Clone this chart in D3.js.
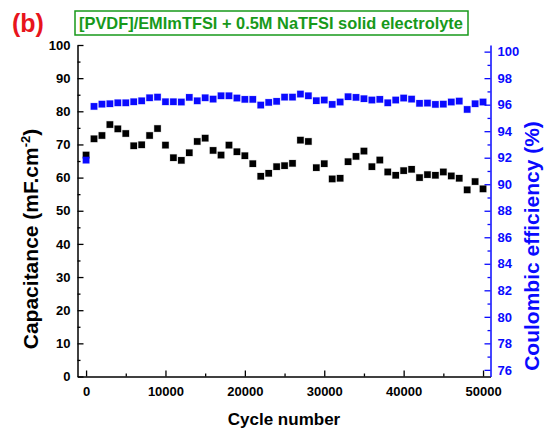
<!DOCTYPE html>
<html><head><meta charset="utf-8">
<script src="https://cdn.jsdelivr.net/npm/d3@7"></script>
<style>
body{margin:0;background:#fff}
svg{display:block}
text{font-family:"Liberation Sans",Arial,Helvetica,sans-serif;font-weight:bold}
</style>
</head><body>
<svg id="chart" width="544" height="429"></svg>
<script>
// ---- data ----
const cycles = [0,1000,2000,3000,4000,5000,6000,7000,8000,9000,10000,11000,12000,13000,14000,15000,16000,17000,18000,19000,20000,21000,22000,23000,24000,25000,26000,27000,28000,29000,30000,31000,32000,33000,34000,35000,36000,37000,38000,39000,40000,41000,42000,43000,44000,45000,46000,47000,48000,49000,50000];
const capacitance = [66.8,71.7,72.7,76.0,74.7,73.3,69.6,69.9,72.7,74.8,69.8,66.0,65.2,67.5,70.9,71.9,68.2,66.8,69.8,67.8,66.6,64.2,60.4,61.3,63.3,63.6,64.3,71.3,70.9,63.0,64.2,59.6,59.8,64.8,66.4,68.0,63.3,65.3,61.7,60.7,62.1,62.5,60.0,60.9,60.7,61.7,60.5,59.8,56.3,58.8,56.6];
const efficiency = [91.82,95.87,96.04,96.07,96.14,96.14,96.22,96.29,96.52,96.57,96.22,96.22,96.2,96.55,96.29,96.52,96.42,96.67,96.67,96.5,96.4,96.4,95.97,96.17,96.25,96.57,96.57,96.8,96.67,96.3,96.35,96.02,96.2,96.6,96.55,96.45,96.35,96.4,96.14,96.35,96.5,96.42,96.1,96.12,96.02,96.04,96.2,96.27,95.64,96.07,96.2];
const xTicks = [0,10000,20000,30000,40000,50000];
const xMinorTicks = [5000,15000,25000,35000,45000];
const leftTicks = [0,10,20,30,40,50,60,70,80,90,100];
const leftMinorTicks = [5,15,25,35,45,55,65,75,85,95];
const rightTicks = [76,78,80,82,84,86,88,90,92,94,96,98,100];
const rightMinorTicks = [77,79,81,83,85,87,89,91,93,95,97,99];
const panelLabel = "(b)";
const titleText = "[PVDF]/EMImTFSI + 0.5M NaTFSI solid electrolyte";
const xTitle = "Cycle number";
const leftTitle = "Capacitance (mF.cm";
const rightTitle = "Coulombic efficiency (%)";

// ---- layout ----
const L = 77.5, R = 490.5, T = 45, B = 376.5;
const BLUE = "#0a0aff", GREEN = "#17991a", RED = "#e8141c";
const svg = d3.select("#chart");

const x = d3.scaleLinear().domain([-1080, 50940]).range([L, R]);
const yL = d3.scaleLinear().domain([0, 100]).range([B, T]);
const yR = d3.scaleLinear().domain([75.5, 100.5]).range([B, T]);

function styleAxis(g, color) {
  g.selectAll("path.domain").attr("stroke", color).attr("stroke-width", 1.5);
  g.selectAll(".tick line").attr("stroke", color).attr("stroke-width", 1.3);
  g.selectAll("text").attr("fill", color).attr("font-size", 13)
    .attr("font-family", '"Liberation Sans",Arial,sans-serif').attr("font-weight", "bold");
}

// minor ticks
svg.append("g").attr("transform", `translate(0,${B})`)
  .call(d3.axisBottom(x).tickValues(xMinorTicks).tickSize(-3).tickFormat(""))
  .call(g => { g.select(".domain").remove(); styleAxis(g, "#000"); });
svg.append("g").attr("transform", `translate(${L},0)`)
  .call(d3.axisLeft(yL).tickValues(leftMinorTicks).tickSize(-3).tickFormat(""))
  .call(g => { g.select(".domain").remove(); styleAxis(g, "#000"); });
svg.append("g").attr("transform", `translate(${R},0)`)
  .call(d3.axisRight(yR).tickValues(rightMinorTicks).tickSize(-3).tickFormat(""))
  .call(g => { g.select(".domain").remove(); styleAxis(g, BLUE); });

// major axes
svg.append("g").attr("transform", `translate(0,${B})`)
  .call(d3.axisBottom(x).tickValues(xTicks).tickSize(-6).tickSizeOuter(0).tickPadding(10).tickFormat(d3.format("d")))
  .call(g => styleAxis(g, "#000"));
svg.append("g").attr("transform", `translate(${L},0)`)
  .call(d3.axisLeft(yL).tickValues(leftTicks).tickSize(-6).tickSizeOuter(0).tickPadding(7))
  .call(g => styleAxis(g, "#000"));
svg.append("g").attr("transform", `translate(${R},0)`)
  .call(d3.axisRight(yR).tickValues(rightTicks).tickSize(-6).tickSizeOuter(0).tickPadding(7))
  .call(g => styleAxis(g, BLUE));

// markers
const S = 6.6;
svg.append("g").selectAll("rect").data(cycles).join("rect")
  .attr("x", (d) => x(d) - S/2).attr("y", (d, i) => yL(capacitance[i]) - S/2)
  .attr("width", S).attr("height", S).attr("fill", "#000")
  .attr("stroke", "rgba(0,0,0,0.18)").attr("stroke-width", 1);
svg.append("g").selectAll("rect").data(cycles).join("rect")
  .attr("x", (d) => x(d) - S/2).attr("y", (d, i) => yR(efficiency[i]) - S/2)
  .attr("width", S).attr("height", S).attr("fill", BLUE)
  .attr("stroke", "rgba(0,0,255,0.18)").attr("stroke-width", 1);

// titles
svg.append("text").attr("x", 12).attr("y", 32).attr("font-size", 25).attr("fill", RED).text(panelLabel);
svg.append("rect").attr("x", 75).attr("y", 11).attr("width", 393).attr("height", 24)
  .attr("fill", "none").attr("stroke", GREEN).attr("stroke-width", 1.5);
svg.append("text").attr("x", 79).attr("y", 28.5).attr("font-size", 16.4).attr("fill", GREEN).text(titleText);

svg.append("text").attr("x", (L + R) / 2).attr("y", 425).attr("text-anchor", "middle")
  .attr("font-size", 17).attr("fill", "#000").text(xTitle);

const lt = svg.append("text").attr("transform", "translate(38,239) rotate(-90)")
  .attr("text-anchor", "middle").attr("font-size", 21).attr("fill", "#000");
lt.append("tspan").text(leftTitle);
lt.append("tspan").attr("dy", -8).attr("font-size", 13).text("-2");
lt.append("tspan").attr("dy", 8).text(")");

svg.append("text").attr("transform", "translate(538.5,246) rotate(-90)")
  .attr("text-anchor", "middle").attr("font-size", 21).attr("fill", BLUE).text(rightTitle);
</script>
</body></html>
